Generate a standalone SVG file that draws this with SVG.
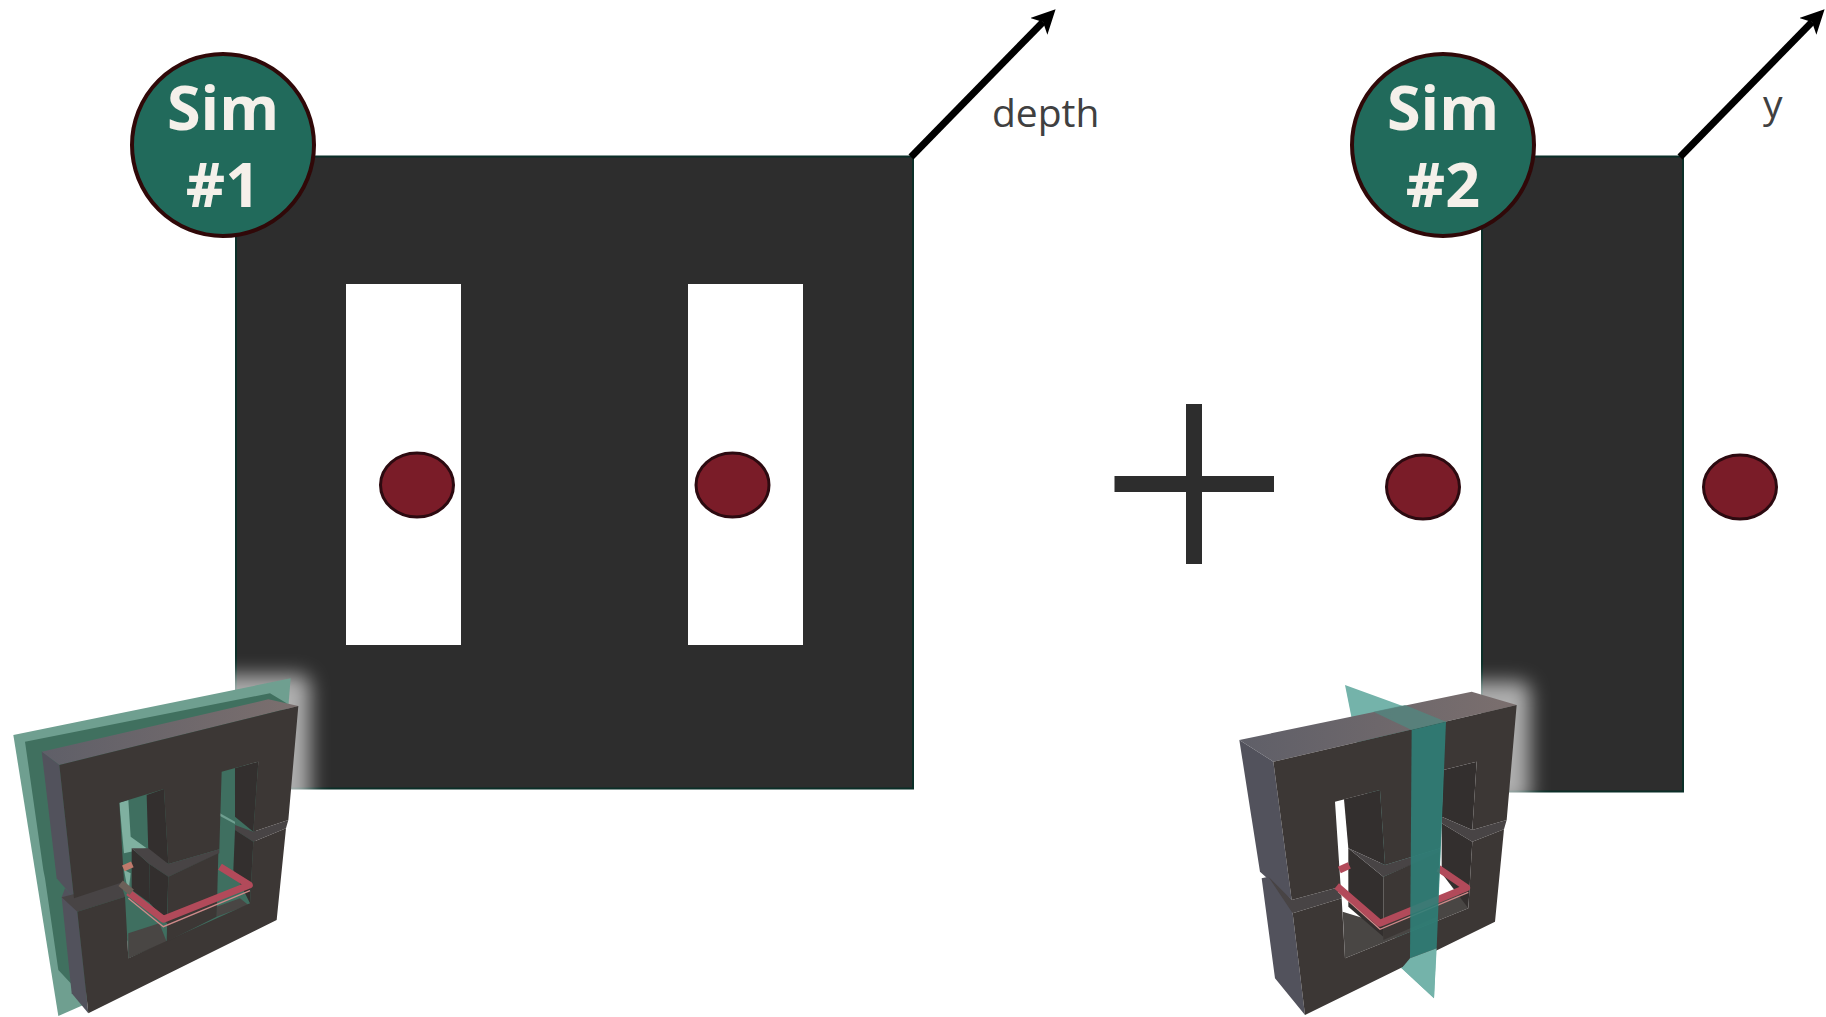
<svg xmlns="http://www.w3.org/2000/svg" width="1826" height="1017" viewBox="0 0 1826 1017">
<style>
.core{fill:#2d2d2d;stroke:#0b2f28;stroke-width:2}
.slot{fill:#fff}
.coil{fill:#7a1c28;stroke:#2c0a10;stroke-width:3}
.badge{fill:#216a5b;stroke:#300808;stroke-width:4}
.bt{font-family:"Open Sans","Noto Sans",sans-serif;font-weight:700;font-size:61px;fill:#f5f0ea;text-anchor:middle}
.lbl{font-family:"Open Sans","Noto Sans",sans-serif;font-size:39px;fill:#404040}
.arrow{stroke:#000;stroke-width:7;fill:none;marker-end:url(#ah)}
.front{fill:#3c3735}
.side{fill:#52525c}
.gap{fill:#484445}
.inner{fill:#332f2e}
.floor{fill:#494644}
.rod{fill:none;stroke:#b24a5a;stroke-width:21;stroke-linejoin:round}
.rodl{fill:none;stroke:#cf8a8a;stroke-width:4}
.glow{fill:#fff;opacity:.62;filter:url(#bl)}
</style>
<defs>
<marker id="ah" markerUnits="userSpaceOnUse" markerWidth="28" markerHeight="28" refX="6" refY="12" orient="auto"><path d="M0,0L24,12L0,24L6,12Z" fill="#000"/></marker>
<filter id="bl" x="-40%" y="-40%" width="180%" height="180%"><feGaussianBlur stdDeviation="28"/></filter>
<linearGradient id="top1" x1="0" x2="1" y1="0" y2="0"><stop offset="0" stop-color="#5f5f68"/><stop offset="1" stop-color="#7b6f6e"/></linearGradient>
</defs>

<g id="sim1-core">
<rect class="core" x="236" y="156.500" width="677" height="632"/>
<rect class="slot" x="346" y="284" width="115" height="361"/>
<rect class="slot" x="688" y="284" width="115" height="361"/>
</g>
<g id="sim1-coil-left"><ellipse class="coil" cx="417" cy="485" rx="36.500" ry="32"/></g>
<g id="sim1-coil-right"><ellipse class="coil" cx="732.500" cy="485" rx="36.500" ry="32"/></g>

<g id="plus"><path d="M1114.500,476H1186V404H1202V476H1274V492H1202V564H1186V492H1114.500Z" fill="#2d2d2d"/></g>

<g id="sim2-core"><rect class="core" x="1482" y="156.500" width="201" height="635"/></g>
<g id="sim2-coil-left"><ellipse class="coil" cx="1423" cy="487" rx="36.500" ry="32"/></g>
<g id="sim2-coil-right"><ellipse class="coil" cx="1740" cy="487" rx="36.500" ry="32"/></g>

<g id="connectors">
<path class="arrow" d="M911,157L1043,22"/>
<path class="arrow" d="M1680,157L1812,22"/>
</g>
<g id="label-depth"><text class="lbl" x="992" y="127">depth</text></g>
<g id="label-y"><text class="lbl" x="1763" y="118">y</text></g>

<g id="badge-sim1"><circle class="badge" cx="223" cy="145" r="91"/><text class="bt" x="223" y="130">Sim</text><text class="bt" x="223" y="207">#1</text></g>
<g id="badge-sim2"><circle class="badge" cx="1443" cy="145" r="91"/><text class="bt" x="1443" y="130">Sim</text><text class="bt" x="1443" y="207">#2</text></g>

<g id="model1" transform="translate(0,640) scale(.33333)">
<rect class="glow" x="560" y="105" width="370" height="420" rx="30"/>
<path d="M40,285L872,115L865,200L250,1095L175,1128Z" fill="#6f9f90"/>
<path d="M75,305L810,160L860,190L250,1070L175,990L135,715L130,690Z" fill="#40705f"/>
<path d="M358,488L775,365L760,800L385,955Z" fill="#3f6f60"/>
<path d="M358,488L385,480L392,590L440,625L372,640Z" fill="#7fb0a0"/>
<path d="M372,690L392,700L385,760Z" fill="#7fb0a0"/>
<path d="M660,520L705,545V552L660,528Z" fill="#6f9f90"/>
<path d="M125,335L805,178L895,198L178,375Z" fill="url(#top1)"/>
<path class="side" d="M125,335L178,375L222,775L170,715Z"/>
<path class="side" d="M185,772L195,745L222,775L232,815L265,1120L215,1060Z"/>
<path class="inner" d="M705,385L775,365L760,575L705,530Z"/>
<path class="inner" d="M440,465L492,447L505,672L445,635Z"/>
<path class="gap" d="M185,772L362,727L375,770L232,815Z"/>
<path class="gap" d="M705,555L760,575L865,540L858,565L760,605L705,570Z"/>
<path class="floor" d="M385,880L478,850L500,905L385,955Z"/>
<path class="floor" d="M650,800L720,775L745,795L650,830Z"/>
<path class="inner" d="M705,570L760,605L750,790L700,690Z"/>
<path class="front" d="M178,375L895,198L865,540L760,575L775,365L665,395L658,628L505,672L492,447L358,488L372,725L222,775Z"/>
<path class="front" d="M232,815L375,770L385,955L750,790L760,605L858,565L830,840L265,1120Z"/>
<path class="inner" d="M395,625L448,672L450,790L395,750Z"/>
<path class="gap" d="M395,625L445,625L505,672L658,628V640L505,710L448,672Z"/>
<path class="front" d="M505,710L655,640L650,830L500,905Z"/>
<path class="inner" d="M448,672L505,710L500,850L450,790Z"/>
<path d="M370,685L397,673" stroke="#c07a6c" stroke-width="19" fill="none"/>
<path class="rodl" d="M385,775L490,860L750,752"/>
<path class="rod" d="M385,757L490,838L748,735L660,680"/>
<path d="M362,730L395,757" stroke="#6c6058" stroke-width="21" fill="none"/>
</g>

<g id="model2" transform="translate(1220,660) scale(.33333)">
<rect class="glow" x="620" y="65" width="310" height="370" rx="30"/>
<path d="M375,75L678,185L642,1015L545,925Z" fill="#74b3aa"/>
<path d="M58,240L755,95L890,135L160,305Z" fill="url(#top1)"/>
<path class="side" d="M58,240L160,305L215,720L120,635Z"/>
<path class="side" d="M125,655L145,650L215,720L218,760L255,1065L165,955Z"/>
<path class="inner" d="M670,330L770,305L757,510L665,470Z"/>
<path class="inner" d="M372,418L480,390L495,615L385,565Z"/>
<path class="gap" d="M145,650L215,720L362,680L365,715L218,760Z"/>
<path class="gap" d="M665,470L757,510L860,480L852,508L757,545L665,490Z"/>
<path class="floor" d="M368,755L480,790L650,715L735,700L745,745L375,895Z"/>
<path class="inner" d="M665,490L757,545L745,745L665,640Z"/>
<path class="front" d="M160,305L890,135L860,480L757,510L770,305L670,330L660,565L495,615L480,390L345,425L362,680L215,720Z"/>
<path class="front" d="M218,760L365,715L375,895L745,745L757,545L852,508L825,785L255,1065Z"/>
<path class="inner" d="M385,565L490,650L490,830L385,740Z"/>
<path class="gap" d="M385,565L495,615L660,565V578L490,650Z"/>
<path class="front" d="M490,650L660,575L650,770L490,840Z"/>
<path d="M358,630L388,616" stroke="#b24a5a" stroke-width="21" fill="none"/>
<path class="rodl" d="M355,695L480,808L745,697"/>
<path class="rod" d="M350,678L480,790L740,683L655,625"/>
<path d="M460,155L555,135L678,185L575,210Z" fill="#4f8a82" opacity=".7"/>
<path d="M575,210L678,185L650,865L570,895Z" fill="#2f7f78" opacity=".9"/>
<path d="M570,895L650,865L642,1015L545,925Z" fill="#74b3aa"/>
</g>
</svg>
